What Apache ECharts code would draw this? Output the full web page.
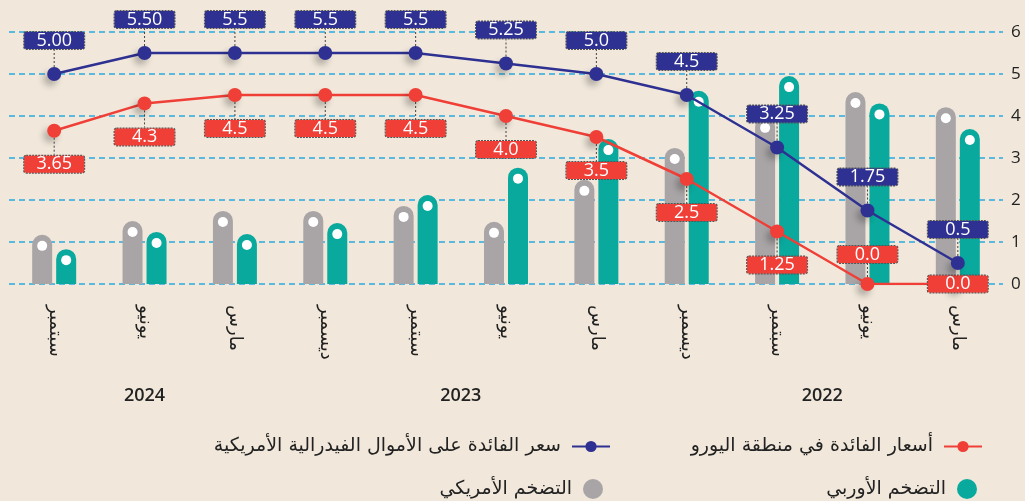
<!DOCTYPE html>
<html lang="ar">
<head>
<meta charset="utf-8">
<script src="https://cdn.jsdelivr.net/npm/echarts@6/dist/echarts.min.js"></script>
<style>
    html, body { margin: 0; padding: 0; background: #f1e8db; }
    #main { width: 1025px; height: 501px; }
</style>
</head>
<body>
<div id="main"></div>
<script>
// categories (left to right)
var months = ['سبتمبر', 'يونيو', 'مارس', 'ديسمبر', 'سبتمبر', 'يونيو', 'مارس', 'ديسمبر', 'سبتمبر', 'يونيو', 'مارس'];
var years = ['2024', '2023', '2022'];
var yearFirst = [0, 3, 7];
var yearLast = [2, 6, 10];
// series
var usInflation = [1.17, 1.5, 1.74, 1.74, 1.86, 1.48, 2.48, 3.24, 3.98, 4.57, 4.21];
var euInflation = [0.83, 1.24, 1.19, 1.45, 2.12, 2.77, 3.45, 4.6, 4.95, 4.3, 3.69];
var fedRate = [5.0, 5.5, 5.5, 5.5, 5.5, 5.25, 5.0, 4.5, 3.25, 1.75, 0.5];
var fedLabels = ['5.00', '5.50', '5.5', '5.5', '5.5', '5.25', '5.0', '4.5', '3.25', '1.75', '0.5'];
var euroRate = [3.65, 4.3, 4.5, 4.5, 4.5, 4.0, 3.5, 2.5, 1.25, 0, 0];
var euroLabels = ['3.65', '4.3', '4.5', '4.5', '4.5', '4.0', '3.5', '2.5', '1.25', '0.0', '0.0'];

var nameEuro = 'أسعار الفائدة في منطقة اليورو';
var nameFed = 'سعر الفائدة على الأموال الفيدرالية الأمريكية';
var nameEuInf = 'التضخم الأوربي';
var nameUsInf = 'التضخم الأمريكي';

var BLUE = '#2e3192';
var RED = '#ef3f37';
var GRAY = '#a9a5a7';
var TEAL = '#0aa99d';
var FONT = '"Open Sans", "DejaVu Sans", sans-serif';
var AR_FONT = '"DejaVu Sans", sans-serif';

var chart = echarts.init(document.getElementById('main'));

function boxLabel(color, pos) {
    return {
        show: true,
        position: pos,
        distance: 18,
        color: '#fff',
        fontSize: 18,
        fontFamily: FONT,
        backgroundColor: color,
        borderColor: '#555',
        borderWidth: 1,
        borderType: [2, 1],
        borderRadius: 2,
        width: 50,
        height: 17,
        lineHeight: 17,
        align: 'center',
        padding: [0, 5]
    };
}

var dotLabel = {
    show: true,
    position: 'insideTop',
    distance: 6,
    formatter: '{d|}',
    rich: { d: { width: 10, height: 10, borderRadius: 5, backgroundColor: '#fff' } }
};

var fedData = fedRate.map(function (v, i) {
    return { value: v, label: { formatter: fedLabels[i] } };
});
var euroData = euroRate.map(function (v, i) {
    var item = { value: v, label: { formatter: euroLabels[i] } };
    if (i == 9) {
        item.label.position = 'top';
        item.label.distance = 14;
    }
    if (i == 10) {
        item.label.position = 'inside';
        item.labelLine = { show: false };
    }
    return item;
});

var symbolShadow = {
    shadowColor: 'rgba(0,0,0,0.25)',
    shadowBlur: 6,
    shadowOffsetX: -4,
    shadowOffsetY: 5
};

var option = {
    backgroundColor: '#f1e8db',
    animation: false,
    textStyle: { fontFamily: FONT },
    grid: { left: 9, right: 22, top: 32, bottom: 217 },
    legend: [
        { data: [nameEuro], right: 37, top: 432 },
        { data: [nameFed], right: 409, top: 432 },
        { data: [nameEuInf], right: 43, top: 474, itemWidth: 20, itemHeight: 22, icon: 'circle' },
        { data: [nameUsInf], right: 417, top: 474, itemWidth: 20, itemHeight: 22, icon: 'circle' }
    ].map(function (l) {
        return Object.assign({
            align: 'right',
            itemWidth: 38,
            itemHeight: 14,
            itemGap: 6,
            selectedMode: false,
            textStyle: { fontSize: 19, color: '#222', fontFamily: AR_FONT, padding: [0, 6, 0, 0] }
        }, l);
    }),
    xAxis: {
        type: 'category',
        data: months,
        axisLine: { show: false },
        axisTick: { show: false },
        axisLabel: {
            rotate: -90,
            margin: 21,
            fontSize: 18,
            color: '#222',
            fontFamily: AR_FONT
        }
    },
    yAxis: {
        type: 'value',
        position: 'right',
        min: 0,
        max: 6,
        interval: 1,
        axisLine: { show: false },
        axisTick: { show: false },
        axisLabel: { fontSize: 17, color: '#222', margin: 8 },
        splitLine: { lineStyle: { color: '#2aa9e0', type: [6, 4], width: 1.5 } }
    },
    series: [
        {
            name: nameUsInf,
            type: 'bar',
            data: usInflation,
            barWidth: 20,
            barGap: '20%',
            itemStyle: { color: GRAY, borderRadius: [10, 10, 0, 0] },
            label: dotLabel
        },
        {
            name: nameEuInf,
            type: 'bar',
            data: euInflation,
            barWidth: 20,
            itemStyle: { color: TEAL, borderRadius: [10, 10, 0, 0] },
            label: dotLabel
        },
        {
            name: nameEuro,
            type: 'line',
            data: euroData,
            symbol: 'circle',
            symbolSize: 14,
            lineStyle: { color: RED, width: 2.5 },
            itemStyle: Object.assign({ color: RED }, symbolShadow),
            label: boxLabel(RED, 'bottom'),
            labelLine: { show: true, lineStyle: { color: '#444', width: 1, type: [2, 2] } },
            z: 3
        },
        {
            name: nameFed,
            type: 'line',
            data: fedData,
            symbol: 'circle',
            symbolSize: 14,
            lineStyle: { color: BLUE, width: 2.5 },
            itemStyle: Object.assign({ color: BLUE }, symbolShadow),
            label: boxLabel(BLUE, 'top'),
            labelLine: { show: true, lineStyle: { color: '#444', width: 1, type: [2, 2] } },
            z: 4
        }
    ]
};
chart.setOption(option);

// year captions under the month labels
var yearText = years.map(function (y, i) {
    var x1 = chart.convertToPixel({ xAxisIndex: 0 }, yearFirst[i]);
    var x2 = chart.convertToPixel({ xAxisIndex: 0 }, yearLast[i]);
    return {
        type: 'text',
        x: (x1 + x2) / 2,
        y: 396,
        style: {
            text: y,
            fill: '#222',
            font: '600 18px ' + FONT,
            align: 'center',
            verticalAlign: 'middle'
        }
    };
});
chart.setOption({ graphic: yearText });
</script>
</body>
</html>
